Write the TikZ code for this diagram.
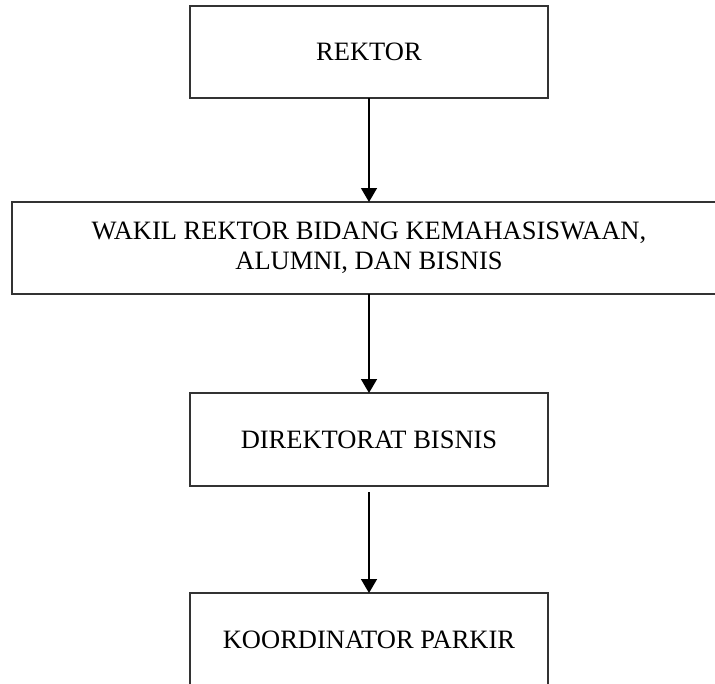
\documentclass[tikz,border=0pt]{standalone}
\usepackage{fontspec}
\setmainfont{Liberation Serif}
\usetikzlibrary{arrows.meta}
\begin{document}
\begin{tikzpicture}[x=1pt,y=-1pt,
  box/.style={draw=black!80,line width=1.5pt,fill=white},
  lbl/.style={font=\fontsize{26.5}{30.5}\selectfont,align=center,inner sep=0pt},
  conn/.style={line width=1.5pt,-{Triangle[width=16pt,length=14pt]}}]
\useasboundingbox (0,0) rectangle (715,683);
\draw[box] (190,6) rectangle (548,98);
\node[lbl] (rektor) at (369,52) {REKTOR};
\coordinate (rb) at (369,98);
\coordinate (wt) at (369,202);
\draw[box] (12,202) rectangle (726,294);
\node[lbl] (wakil) at (369,248) {WAKIL REKTOR BIDANG KEMAHASISWAAN,\\ALUMNI, DAN BISNIS};
\coordinate (wb) at (369,294);
\coordinate (dt) at (369,393);
\draw[box] (190,393) rectangle (548,486);
\node[lbl] (dir) at (369,440) {DIREKTORAT BISNIS};
\coordinate (ds) at (369,492);
\coordinate (kt) at (369,593);
\draw[box] (190,593) rectangle (548,690);
\node[lbl] (koord) at (369,640) {KOORDINATOR PARKIR};
\draw[conn] (rb) -- (wt);
\draw[conn] (wb) -- (dt);
\draw[conn] (ds) -- (kt);
\end{tikzpicture}
\end{document}
